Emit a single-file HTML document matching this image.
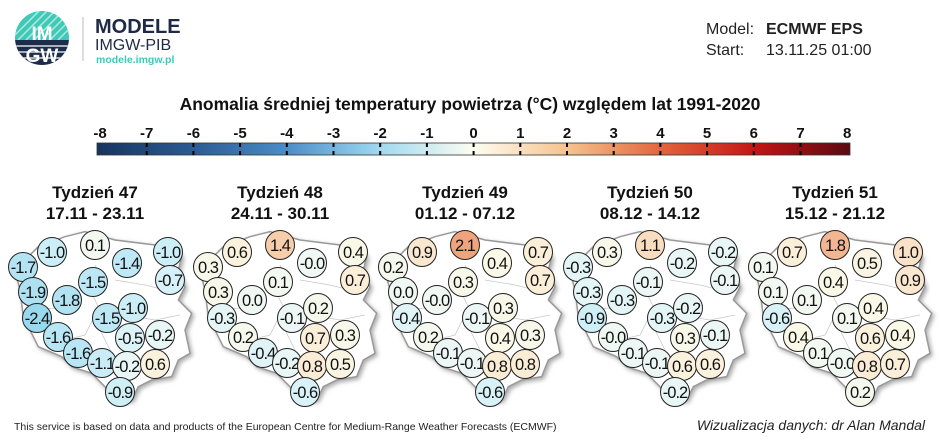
<!DOCTYPE html>
<html><head><meta charset="utf-8"><style>
html,body{margin:0;padding:0;background:#fff;}
body{width:940px;height:436px;overflow:hidden;font-family:"Liberation Sans",Arial,sans-serif;}
</style></head><body>
<svg id="s" width="940" height="436" xmlns="http://www.w3.org/2000/svg" font-family="Liberation Sans, Arial, sans-serif">
<defs>
<linearGradient id="cb" x1="0" x2="1" y1="0" y2="0">
<stop offset="0" stop-color="#17345f"/>
<stop offset="0.125" stop-color="#2b5a92"/>
<stop offset="0.25" stop-color="#4a8cc8"/>
<stop offset="0.375" stop-color="#9fd9f0"/>
<stop offset="0.5" stop-color="#fdfdf2"/>
<stop offset="0.625" stop-color="#f6c28e"/>
<stop offset="0.75" stop-color="#e2643c"/>
<stop offset="0.875" stop-color="#c41414"/>
<stop offset="1" stop-color="#5a0a12"/>
</linearGradient>
<clipPath id="lc"><circle cx="42" cy="38" r="27"/></clipPath>
<filter id="sh" x="-10%" y="-10%" width="130%" height="130%"><feDropShadow dx="2" dy="2" stdDeviation="2" flood-color="#888" flood-opacity="0.7"/></filter>
</defs>
<g clip-path="url(#lc)">
<rect x="10" y="8" width="70" height="32" fill="#3fc9b6"/>
<g stroke="#ffffff" stroke-width="1.5" opacity="0.6">
<line x1="10" y1="40" x2="45" y2="5"/><line x1="18" y1="40" x2="53" y2="5"/><line x1="26" y1="40" x2="61" y2="5"/><line x1="34" y1="40" x2="69" y2="5"/><line x1="42" y1="40" x2="77" y2="5"/><line x1="50" y1="40" x2="85" y2="5"/><line x1="58" y1="40" x2="93" y2="5"/>
</g>
<rect x="10" y="40" width="70" height="30" fill="#1d2c4a"/>
<g stroke="#fff" stroke-width="1.2"><line x1="10" y1="46" x2="80" y2="46"/><line x1="10" y1="52" x2="80" y2="52"/><line x1="10" y1="58" x2="80" y2="58"/></g>
</g>
<text x="42" y="40" text-anchor="middle" font-size="19" font-weight="bold" fill="#fff">IM</text>
<text x="42" y="62" text-anchor="middle" font-size="19" font-weight="bold" fill="#fff">GW</text>
<line x1="83" y1="17" x2="83" y2="61" stroke="#bbb" stroke-width="1"/>
<text x="95" y="33" font-size="20" font-weight="bold" fill="#1e2a45">MODELE</text>
<text x="95" y="50" font-size="16" fill="#1e2a45">IMGW-PIB</text>
<text x="96" y="63" font-size="10.5" font-weight="bold" fill="#3fc9b6">modele.imgw.pl</text>
<text x="706" y="34" font-size="16" fill="#222">Model:</text>
<text x="766" y="34" font-size="16" font-weight="bold" fill="#222">ECMWF EPS</text>
<text x="706" y="55" font-size="16" fill="#222">Start:</text>
<text x="766" y="55" font-size="16" fill="#222">13.11.25 01:00</text>
<text x="470" y="110" text-anchor="middle" font-size="17.5" font-weight="bold" fill="#111">Anomalia średniej temperatury powietrza (°C) względem lat 1991-2020</text>
<rect x="97" y="143" width="753" height="12" fill="url(#cb)" stroke="#333" stroke-width="0.8"/>
<g id="ticks"></g>
<g id="maps"></g>
<text x="14" y="430" font-size="10.5" fill="#222">This service is based on data and products of the European Centre for Medium-Range Weather Forecasts (ECMWF)</text>
<text x="925" y="430" text-anchor="end" font-size="14" font-style="italic" fill="#222">Wizualizacja danych: dr Alan Mandal</text>
</svg>
<script>
var NS="http://www.w3.org/2000/svg";
function el(p,t,a,txt){var e=document.createElementNS(NS,t);for(var k in a)e.setAttribute(k,a[k]);if(txt!==undefined)e.textContent=txt;p.appendChild(e);return e;}
var tk=document.getElementById('ticks');
for(var i=0;i<=16;i++){var x=100+i*46.7;
el(tk,'text',{x:x,y:138,'text-anchor':'middle','font-size':15,'font-weight':'bold',fill:'#111'},String(i-8));
if(i>0&&i<16){el(tk,'line',{x1:x,x2:x,y1:143,y2:147,stroke:'#000','stroke-width':2});el(tk,'line',{x1:x,x2:x,y1:151,y2:155,stroke:'#000','stroke-width':2});}}
var pos=[[47,32],[90,25],[163,32],[18,47],[122,43],[165,60],[28,72],[62,80],[88,62],[32,98],[102,98],[128,88],[155,115],[125,118],[53,117],[73,133],[97,143],[122,146],[150,144],[115,172]];
var vals=[
["-1.0","0.1","-1.0","-1.7","-1.4","-0.7","-1.9","-1.8","-1.5","-2.4","-1.5","-1.0","-0.2","-0.5","-1.6","-1.6","-1.1","-0.2","0.6","-0.9"],
["0.6","1.4","0.4","0.3","-0.0","0.7","0.3","0.0","0.1","-0.3","-0.1","0.2","0.3","0.7","0.2","-0.4","-0.2","0.8","0.5","-0.6"],
["0.9","2.1","0.7","0.2","0.4","0.7","0.0","-0.0","0.3","-0.4","-0.1","0.3","0.3","0.4","0.2","-0.1","-0.1","0.8","0.8","-0.6"],
["0.3","1.1","-0.2","-0.3","-0.2","-0.1","-0.3","-0.3","-0.1","-0.9","-0.3","-0.2","-0.1","0.3","-0.0","-0.1","-0.1","0.6","0.6","-0.2"],
["0.7","1.8","1.0","0.1","0.5","0.9","0.1","0.1","0.4","-0.6","0.1","0.4","0.4","0.6","0.4","0.1","-0.0","0.8","0.7","0.2"]];
var titles=[["Tydzień 47","17.11 - 23.11"],["Tydzień 48","24.11 - 30.11"],["Tydzień 49","01.12 - 07.12"],["Tydzień 50","08.12 - 14.12"],["Tydzień 51","15.12 - 21.12"]];
var shape=[[180,50],[240,35],[330,60],[450,75],[500,70],[530,110],[520,150],[540,200],[520,240],[560,280],[540,330],[555,400],[520,420],[500,470],[440,480],[400,500],[380,540],[330,545],[300,500],[260,460],[200,440],[170,410],[100,380],[80,340],[55,290],[45,210],[30,150],[70,110],[100,80]];
function lerp(a,b,t){return [0,1,2].map(function(i){return Math.round(a[i]+(b[i]-a[i])*t);});}
function col(v){var st=[[-2.5,[150,214,236]],[-1.5,[188,232,246]],[-0.5,[220,243,248]],[0,[240,248,244]],[0.4,[250,248,230]],[0.8,[251,236,214]],[1.4,[246,206,172]],[2.1,[240,164,126]]];
if(v<=st[0][0])return 'rgb('+st[0][1]+')';for(var i=1;i<st.length;i++){if(v<=st[i][0]){return 'rgb('+lerp(st[i-1][1],st[i][1],(v-st[i-1][0])/(st[i][0]-st[i-1][0]))+')';}}return 'rgb('+st[st.length-1][1]+')';}
var mg=document.getElementById('maps');
for(var m=0;m<5;m++){var ox=5+m*185, oy=220;
var g=el(mg,'g',{});
el(g,'text',{x:ox+90,y:198,'text-anchor':'middle','font-size':17,'font-weight':'bold',fill:'#111'},titles[m][0]);
el(g,'text',{x:ox+90,y:219,'text-anchor':'middle','font-size':17,'font-weight':'bold',fill:'#111'},titles[m][1]);
el(g,'polygon',{points:shape.map(function(p){return (ox+p[0]/3)+','+(oy+p[1]/3);}).join(' '),fill:'#fff',stroke:'#999','stroke-width':1.5,filter:'url(#sh)'});
var ib=[[[90,45],[95,55],[85,70],[95,90]],[[30,90],[50,88],[70,70]],[[110,60],[140,65],[160,70]],[[95,90],[120,95],[150,100],[175,95]],[[90,95],[80,115],[60,120],[40,125]],[[90,100],[105,130],[115,150]],[[150,100],[145,125],[160,140]]];
ib.forEach(function(l){el(g,'polyline',{points:l.map(function(p){return (ox+p[0])+','+(oy+p[1]);}).join(' '),fill:'none',stroke:'#c8c8c8','stroke-width':0.8});});
for(var k=0;k<20;k++){var cx=ox+pos[k][0],cy=oy+pos[k][1],v=parseFloat(vals[m][k]);
el(g,'circle',{cx:cx,cy:cy,r:14.5,fill:col(v),stroke:'#222','stroke-width':1});
el(g,'text',{x:cx,y:cy+6,'text-anchor':'middle','font-size':16.5,fill:'#111','letter-spacing':'-1'},vals[m][k]);}
}
</script>
</body></html>
